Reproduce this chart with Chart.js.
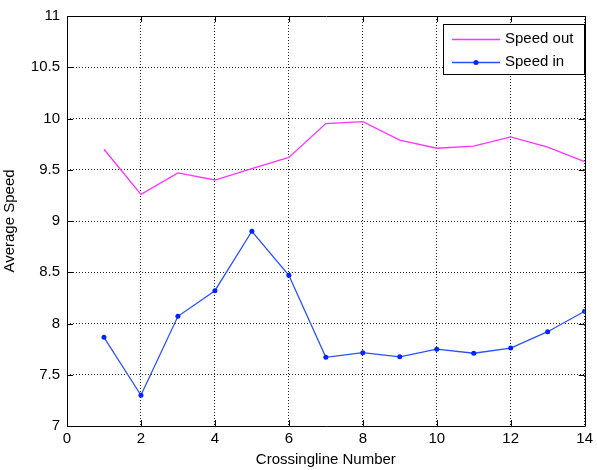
<!DOCTYPE html>
<html><head><meta charset="utf-8">
<script src="https://cdn.jsdelivr.net/npm/chart.js@4"></script>
<style>html,body{margin:0;padding:0;background:#fff;}#wrap{width:597px;height:470px;}</style>
</head><body><div id="wrap"><canvas id="c" width="597" height="470"></canvas></div>
<script>
const crossingLines = [1,2,3,4,5,6,7,8,9,10,11,12,13,14];
const speedOut = [9.70,9.26,9.47,9.40,9.51,9.62,9.95,9.97,9.79,9.71,9.73,9.82,9.72,9.58];
const speedIn  = [7.865,7.30,8.07,8.32,8.90,8.47,7.67,7.715,7.675,7.75,7.71,7.76,7.92,8.12];
const xTicks = [0,2,4,6,8,10,12,14];
const yTicks = [7,7.5,8,8.5,9,9.5,10,10.5,11];

const FONT = {family:'"Liberation Sans", Arial, sans-serif', size:15};

const matlabBox = {
  id:'matlabBox',
  afterDraw(chart){
    const {ctx, chartArea:a, scales} = chart;
    ctx.save();
    ctx.strokeStyle='#000'; ctx.lineWidth=1;
    ctx.beginPath();
    ctx.rect(Math.round(a.left)+0.5, Math.round(a.top)+0.5, Math.round(a.right-a.left), Math.round(a.bottom-a.top));
    ctx.stroke();
    const L=6;
    ctx.beginPath();
    xTicks.forEach(v=>{const x=Math.round(scales.x.getPixelForValue(v))+0.5;
      ctx.moveTo(x,a.bottom); ctx.lineTo(x,a.bottom-L);
      ctx.moveTo(x,a.top); ctx.lineTo(x,a.top+L);});
    yTicks.forEach(v=>{const y=Math.round(scales.y.getPixelForValue(v))+0.5;
      ctx.moveTo(a.left,y); ctx.lineTo(a.left+L,y);
      ctx.moveTo(a.right,y); ctx.lineTo(a.right-L,y);});
    ctx.stroke();
    // legend
    const bx=443.5, by=24.5, bw=141, bh=50;
    ctx.fillStyle='#fff'; ctx.fillRect(bx,by,bw,bh);
    ctx.strokeStyle='#000'; ctx.strokeRect(bx,by,bw,bh);
    ctx.font='15px "Liberation Sans", Arial, sans-serif';
    ctx.textBaseline='middle'; ctx.textAlign='left';
    chart.data.datasets.forEach((ds,i)=>{
      const y=38.5+i*23.5;
      ctx.strokeStyle=ds.borderColor; ctx.lineWidth=1.3;
      ctx.beginPath(); ctx.moveTo(452,Math.round(y)+0.5); ctx.lineTo(500,Math.round(y)+0.5); ctx.stroke();
      if(ds.pointRadius>0){ctx.fillStyle=ds.pointBackgroundColor; ctx.beginPath(); ctx.arc(476,Math.round(y)+0.5,2.5,0,Math.PI*2); ctx.fill();}
      ctx.fillStyle='#000'; ctx.fillText(ds.label,505,y);
    });
    ctx.restore();
  }
};

new Chart(document.getElementById('c'),{
  type:'line',
  data:{
    datasets:[
      {label:'Speed out', data:crossingLines.map((x,i)=>({x,y:speedOut[i]})), borderColor:'#ff33ff', borderWidth:1.3, pointRadius:0, tension:0},
      {label:'Speed in', data:crossingLines.map((x,i)=>({x,y:speedIn[i]})), borderColor:'#2a50ff', borderWidth:1.3, pointRadius:2.5, pointBackgroundColor:'#0024ff', pointBorderColor:'#0024ff', pointBorderWidth:0, tension:0}
    ]
  },
  options:{
    responsive:false, animation:false, devicePixelRatio:1,
    layout:{padding:{top:15,right:8,left:0,bottom:0}},
    plugins:{legend:{display:false}, tooltip:{enabled:false}},
    scales:{
      x:{type:'linear', min:0, max:14,
        afterFit(s){s.height=44;},
        afterBuildTicks(s){s.ticks=xTicks.map(v=>({value:v}));},
        ticks:{color:'#000', font:FONT, padding:4, maxRotation:0, autoSkip:false, callback:v=>String(v)},
        grid:{color:'#222', drawTicks:false, lineWidth:1},
        border:{display:false, dash:[1,2]},
        title:{display:true, text:'Crossingline Number', color:'#000', font:FONT, padding:{top:0,bottom:1}}
      },
      y:{type:'linear', min:7, max:11,
        afterFit(s){s.width=67;},
        afterBuildTicks(s){s.ticks=yTicks.map(v=>({value:v}));},
        ticks:{color:'#000', font:FONT, padding:7, autoSkip:false, callback:v=>String(v)},
        grid:{color:'#222', drawTicks:false, lineWidth:1},
        border:{display:false, dash:[1,2]},
        title:{display:true, text:'Average Speed', color:'#000', font:FONT, padding:{top:1,bottom:0}}
      }
    }
  },
  plugins:[matlabBox]
});
</script></body></html>
